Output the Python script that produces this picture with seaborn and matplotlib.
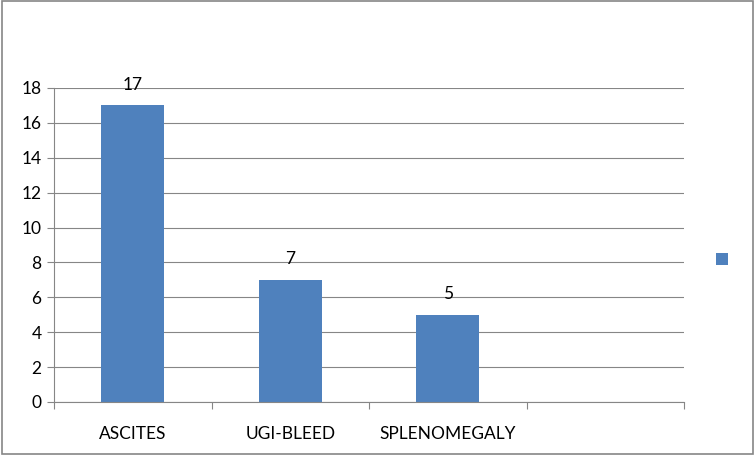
import numpy as np
import pandas as pd
import matplotlib
matplotlib.use("Agg")
import matplotlib.pyplot as plt
import seaborn as sns
from matplotlib.patches import Rectangle, Patch

# Data
categories = ["ASCITES", "UGI-BLEED", "SPLENOMEGALY", ""]
counts = [17, 7, 5, np.nan]
yticks = [0, 2, 4, 6, 8, 10, 12, 14, 16, 18]

BAR_COLOR = "#4F81BD"
GRID_COLOR = "#868686"
FS = 12.5

df = pd.DataFrame({"Finding": categories, "Count": counts})

sns.set_theme(style="white")
plt.rcParams['font.family'] = ['Lato', 'DejaVu Sans']

fig = plt.figure(figsize=(7.56, 4.55), dpi=100)
ax = fig.add_axes([54 / 756, 53 / 455, 630 / 756, 314 / 455])

sns.barplot(data=df, x="Finding", y="Count", order=categories,
            color=BAR_COLOR, width=0.4, saturation=1, ax=ax, errorbar=None,
            linewidth=0)

# data labels
ax.bar_label(ax.containers[0], labels=[f"{int(v)}" for v in counts[:3]],
             padding=9, fontsize=FS, color="#000000")

ax.set_xlim(-0.5, len(categories) - 0.5)
ax.set_ylim(0, 18)
ax.set_yticks(yticks)
ax.set_xlabel("")
ax.set_ylabel("")

# grid
ax.yaxis.grid(True, color=GRID_COLOR, linewidth=0.8)
ax.set_axisbelow(True)

# spines
for s in ["top", "right"]:
    ax.spines[s].set_visible(False)
for s in ["left", "bottom"]:
    ax.spines[s].set_color(GRID_COLOR)
    ax.spines[s].set_linewidth(0.8)

# ticks: y outward, x tick marks at category boundaries
ax.tick_params(axis="y", direction="out", length=5, width=0.8, color=GRID_COLOR,
               labelsize=FS, labelcolor="black", pad=4, left=True)
ax.set_xticks(np.arange(-0.5, len(categories)), minor=True)
ax.tick_params(axis="x", which="major", length=0, labelsize=FS,
               labelcolor="black", pad=17)
ax.tick_params(axis="x", which="minor", direction="out", length=5, width=0.8,
               color=GRID_COLOR, bottom=True)

# legend with an unlabeled series marker
fig.legend(handles=[Patch(facecolor=BAR_COLOR, edgecolor="none")], labels=[""],
           loc="center", bbox_to_anchor=(722 / 756, 1 - 260 / 455),
           frameon=False, handlelength=0.8, handleheight=0.8, handletextpad=0)

# outer chart border
fig.patches.append(Rectangle((0.002, 0.003), 0.994, 0.994, transform=fig.transFigure,
                             fill=False, edgecolor=GRID_COLOR, linewidth=1.2))

fig.savefig("out.png", dpi=100)
